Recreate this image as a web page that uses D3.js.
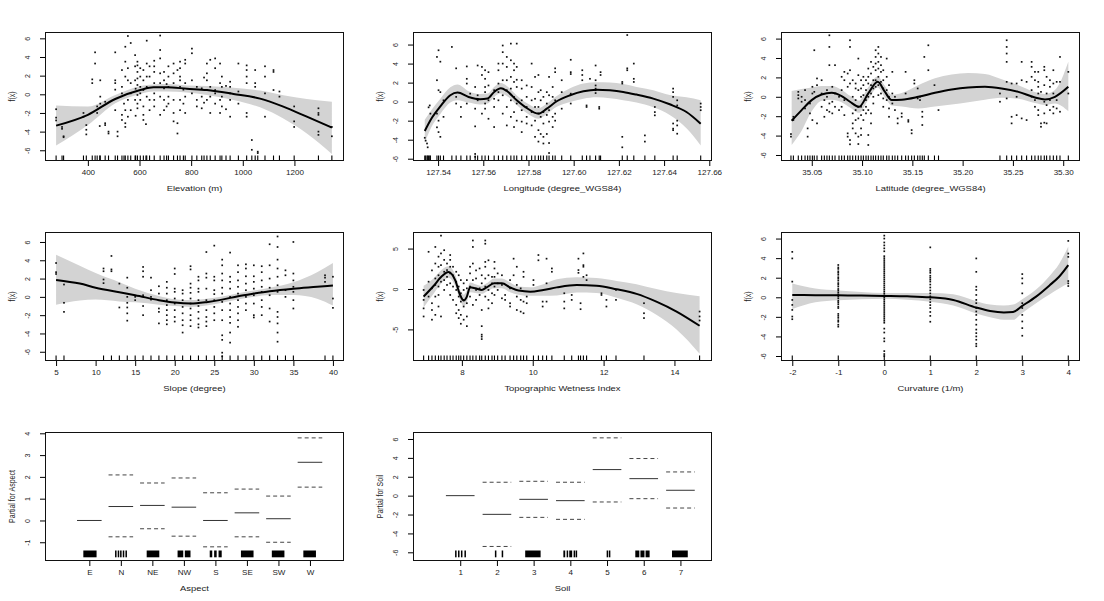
<!DOCTYPE html>
<html><head><meta charset="utf-8">
<script src="https://cdn.jsdelivr.net/npm/d3@7"></script>
<style>body{margin:0;background:#fff}svg text{font-family:"Liberation Sans",Arial,sans-serif;fill:#222}</style>
</head><body><svg id="c" width="1104" height="601"></svg>
<script>
// ---------------- DATA ----------------
// Elevation panel: partial residual columns [x, [y...]], fitted smooth and band
const elevPts = [[277,[-1.6,-2.5,-2.8]],[300,[-3.5,-3.7]],[306,[-4.5,-4.6]],[383,[-2.0,-2.4]],[394,[-3.3,-3.8,-4.3]],[417,[1.6,1.2]],[428,[4.5,3.3]],[436,[-1.3,-2.0]],[446,[-3.4]],[448,[1.5,-0.25,-1.0]],[467,[-0.8,-3.1,-3.3]],[480,[-4.0,-4.2]],[506,[4.5,1.5,1.2,0.5,-1.7]],[515,[-4.0,-4.5]],[532,[2.6,0.8,0.1,-2.2,-2.75]],[540,[-1.0]],[545,[5.1,3.5,1.9,-1.7,-3.1,-3.5]],[555,[6.25,2.8,1.5,-0.6,-2.4]],[566,[5.5,1.2,0.1,-1.7]],[583,[4.2,3.0,1.5,-0.6]],[585,[0.6,-2.3]],[592,[3.5,3.1,2.4,1.7,1.0,-0.07,-1.0,-1.5]],[603,[2.8,1.9,0.8,0.1,-0.6]],[615,[2.6,1.5,0.46,-1.3,-2.2,-2.75]],[625,[-3.2]],[628,[5.75,3.3,1.9,0.8,-0.25]],[639,[3.0,1.9,-0.6,-1.7]],[657,[3.6,3.0,2.4,1.2,0.1,-0.6,-1.3]],[680,[6.3,4.75,3.85,2.25,1.2,-0.25,-2.2]],[695,[2.4,1.5,0.64,-0.6,-1.7]],[705,[1.1,-1.3]],[712,[3.0,1.9,0.8,-0.25,-1.0]],[732,[3.3,2.25,1.2,-0.6,-2.0,-2.9]],[747,[2.6,-3.1,-4.2]],[757,[3.5,2.8,1.9,1.5,0.8,-0.6,-1.7]],[770,[0.5,-1.0]],[777,[3.7,3.3,1.2,-0.25,-2.0]],[803,[4.9,4.4,1.5,0.1]],[822,[0.8,-0.6,-1.3]],[841,[0.64,-0.25,-1.5]],[850,[1.8,-0.9]],[861,[3.3,2.25,1.5,0.46,-0.6]],[874,[3.7,0.8,-0.25,-2.0]],[893,[3.85,2.8,0.46,0.1,-1.0]],[912,[3.3,1.2,-0.6,-2.0]],[919,[1.9,0.8,-0.25,-1.3]],[935,[0.9,-1.6]],[951,[1.35,0.8,0.1,-0.6,-2.4]],[983,[3.3,0.3,-1.0]],[1015,[3.1,2.6,1.9,1.2,-2.0,-2.4]],[1035,[-4.9,-5.95]],[1048,[2.6,1.2,0.8]],[1058,[-6.15,-6.3]],[1086,[3.0,1.9,0.1,-2.4]],[1119,[2.6,2.4,0.46]],[1142,[0.3,-0.25]],[1199,[-1.3,-2.9,-3.5]],[1293,[-1.5,-2.0,-2.2,-4.0,-4.35]],[1345,[-3.5,-4.5]]];
const elevX   = [277,400,506,603,654,706,783,861,964,1067,1157,1248,1345];
const elevFit = [-3.36,-2.2,-0.5,0.46,0.75,0.75,0.6,0.46,0.04,-0.46,-1.32,-2.4,-3.57];
const elevUp  = [-1.2,-1.3,-0.07,0.9,1.05,1.1,0.95,0.9,0.7,0.4,-0.1,-0.5,-0.8];
const elevLo  = [-5.5,-3.3,-0.96,0.04,0.3,0.3,0.2,-0.07,-0.6,-1.4,-2.6,-4.2,-6.4];

const lonPts = [[127.5341,[-3.8]],[127.5345,[-4.1]],[127.5351,[-4.4]],[127.5354,[-4.8]],[127.5358,[-0.6]],[127.5363,[-0.4]],[127.5366,[-1.26]],[127.5395,[4.7,2.25,-1.26,-2.7]],[127.5402,[5.4,1.2,-2.0,-3.2]],[127.5410,[4.2,1.0,-3.7]],[127.5424,[0.14,-1.6]],[127.5461,[5.75]],[127.5480,[3.5,0.5,-0.2]],[127.5501,[-0.56,-1.6]],[127.5527,[3.7,2.4,1.9,-0.2]],[127.5542,[0.84]],[127.5564,[1.54,-0.74,-2.6,-5.5,-5.8]],[127.5575,[3.8,0.67,0.14]],[127.5594,[3.65,2.8,-1.26]],[127.5608,[3.3,2.4,1.54,1.0,-0.2,-0.74]],[127.5623,[3.1,1.7,0.14,-1.8]],[127.5648,[1.2,0.3,-0.56,-2.67]],[127.5667,[4.0,3.3,1.9,1.0,0.14]],[127.5686,[5.9,5.2,4.0,2.25,0.67,-1.26]],[127.5704,[4.7,3.65,2.25,1.2,-0.56,-2.5]],[127.5722,[6.1,4.35,2.6,1.37,0.14,-1.6]],[127.5736,[4.0,3.3,2.07,0.5,-1.1,-2.67]],[127.5748,[6.1,3.65,2.3,1.54,-0.2,-2.0]],[127.5770,[2.25,1.37,0.14,-0.9,-2.1,-3.2]],[127.5792,[1.7,0.5,-0.56,-1.6,-2.3]],[127.5814,[4.0,1.54,0.14,-1.1,-2.5]],[127.5829,[2.6,0.3,-0.56,-2.0,-3.7]],[127.5844,[2.8,1.0,-0.56,-1.26,-3.0,-4.2]],[127.5854,[1.2,0.14,-1.6,-3.4]],[127.5866,[0.5,-1.1,-2.3,-3.7,-4.4]],[127.5881,[1.0,-0.2,-1.4,-3.4]],[127.5891,[2.6,0.67,-0.9,-2.1,-4.35,-5.4]],[127.5907,[1.54,0.5,-1.6,-2.67]],[127.5918,[3.5,3.1,0.14,-1.26,-2.0]],[127.5947,[2.25,1.0,-0.74]],[127.5987,[4.4,3.1,2.9,0.84,-0.2]],[127.6038,[3.3,2.8,2.25]],[127.6057,[-0.4,-0.56]],[127.6072,[2.4]],[127.6097,[3.8,2.25,1.7,1.37,1.2,0.9]],[127.6113,[-0.56,-0.74]],[127.6119,[3.1,2.8]],[127.6215,[2.07,1.9,-3.7,-4.8]],[127.6237,[7.0,3.5,3.3]],[127.6266,[4.0,2.4,2.07]],[127.6315,[-3.55,-4.2]],[127.6359,[-0.56,-1.1,-1.44]],[127.6440,[1.37,1.0,0.5,-2.3,-2.84,-3.0]],[127.6458,[0.14,-0.4,-2.0,-2.5,-3.37]],[127.6562,[-0.2,-0.56,-0.9]]];
const lonX   = [127.5341,127.5370,127.5410,127.5454,127.5486,127.5535,127.5586,127.5619,127.5648,127.5678,127.5704,127.5748,127.5792,127.5844,127.5881,127.5925,127.5984,127.6043,127.6102,127.6160,127.6219,127.6278,127.6352,127.6425,127.6499,127.6562];
const lonFit = [-3.09,-1.8,-0.5,0.67,0.95,0.49,0.25,0.32,1.02,1.4,1.12,0.14,-0.67,-1.26,-0.74,0.04,0.67,1.09,1.26,1.19,1.02,0.74,0.32,-0.28,-1.09,-2.32];
const lonUp  = [-1.9,-0.9,0.3,1.5,1.8,1.1,0.8,0.85,1.55,1.95,1.65,0.65,-0.15,-0.7,-0.2,0.6,1.4,1.9,2.05,2.0,1.85,1.55,1.2,0.7,0.45,0.15];
const lonLo  = [-4.3,-2.7,-1.3,-0.1,0.15,-0.1,-0.3,-0.2,0.5,0.85,0.6,-0.35,-1.2,-1.8,-1.3,-0.55,-0.05,0.3,0.45,0.35,0.15,-0.1,-0.6,-1.4,-2.8,-4.6];

const latPts = [[35.0293,[-3.84,-4.11]],[35.0317,[-2.4,-2.06]],[35.0366,[0.51,0.17,-0.17]],[35.0399,[0,-0.51]],[35.0433,[0.69,-0.34,-1.2]],[35.0459,[-3.26,-4.11]],[35.0482,[-0.69,-1.71]],[35.0506,[1.03,0.34,-2.4]],[35.0525,[4.8,0.51]],[35.0552,[1.89,1.2,-2.74]],[35.0598,[1.71,0.34,-1.03]],[35.0625,[-0.34,-2.06]],[35.0651,[0.69,0,-1.37]],[35.0675,[6.34,5.14,3.26,-0.69,-1.54]],[35.0704,[1.03,-0.51,-1.71]],[35.0731,[3.26,0.34,-1.03]],[35.0771,[0,-1.37]],[35.0797,[2.06,0.69,-1.03]],[35.0824,[2.57,1.71,-0.34,-1.89]],[35.0857,[2.4,1.03,-3.77,-4.11]],[35.0880,[5.83,5.14,2.74,1.37,-4.46,-4.9]],[35.0907,[1.71,0,-1.71,-2.74,-3.26]],[35.0936,[1.37,0.86,-0.34,-1.37,-2.4,-3.77]],[35.0963,[3.94,2.23,0.69,-1.03,-2.23,-4.11,-4.87]],[35.0990,[1.71,0.86,0,-1.03,-1.89,-3.26,-3.94]],[35.1013,[2.06,1.2,0.17,-1.37,-2.4]],[35.1039,[1.71,0.69,-0.34,-1.03,-1.71]],[35.1062,[2.91,2.06,1.37,0,-1.37,-3.94,-4.97]],[35.1089,[3.6,2.4,1.2,0.34,-1.71,-2.74]],[35.1112,[3.09,1.71,0.86,0,-0.69]],[35.1135,[4.8,4.11,3.43,2.74,1.71,1.03]],[35.1162,[5.14,4.46,3.6,2.91,2.06,1.2,0.17]],[35.1188,[4.11,3.26,2.57,1.54,0.34]],[35.1211,[2.74,1.71,0.86,-0.17,-1.03]],[35.1245,[3.94,2.06,0.69,-0.34]],[35.1268,[1.2,0,-1.2,-2.06]],[35.1301,[2.57,0.34,-0.69]],[35.1327,[0,-1.37]],[35.1354,[-2.23,-2.74]],[35.1394,[-1.71,-2.06]],[35.1433,[2.57,0.34]],[35.1460,[-2.4,-2.57]],[35.1493,[-3.43,-3.77]],[35.1520,[1.71,1.37]],[35.1553,[0.86,-0.17]],[35.1576,[0,-0.34]],[35.1599,[-1.54,-2.06,-2.91]],[35.1619,[4.11]],[35.1659,[5.31,2.74]],[35.1720,[1.2]],[35.1760,[-1.37]],[35.2371,[0.34,-0.51]],[35.2438,[5.83,5.14,4.46,3.6,1.54,-0.17]],[35.2487,[1.37,-2.06,-2.74]],[35.2537,[1.37,0,-1.89]],[35.2587,[3.6,1.71,-2.23]],[35.2636,[1.54,-2.4]],[35.2686,[3.6,3.09,2.06,0.69,0]],[35.2719,[2.57,1.71,-0.34,-1.03]],[35.2752,[2.57,1.54,1.03,0.34,-1.37,-1.89]],[35.2779,[0.51,-2.74,-3.09]],[35.2812,[3.09,2.74,1.2,-0.51,-1.71,-2.67]],[35.2835,[2.06,0.34,-0.86,-2.74]],[35.2868,[1.71,1.03,-0.34,-1.37]],[35.2902,[2.74,1.37,0.34,-1.03,-1.71]],[35.2935,[1.54,-0.34,-1.2]],[35.2968,[4.11,1.54,-1.54]],[35.3051,[2.57,0.34]]];
const latX   = [35.0300,35.0399,35.0499,35.0598,35.0698,35.0797,35.0880,35.0970,35.1062,35.1155,35.1228,35.1294,35.1394,35.1559,35.1725,35.1891,35.2056,35.2222,35.2388,35.2554,35.2719,35.2819,35.2918,35.3051];
const latFit = [-2.47,-1.37,-0.34,0.24,0.41,0.07,-0.51,-1.03,0.35,1.54,0.5,-0.34,-0.3,0.0,0.41,0.75,0.96,1.03,0.86,0.51,-0.07,-0.27,0.0,1.03];
const latUp  = [0.6,0.8,0.95,1.1,1.1,0.7,0.1,-0.4,1.0,2.1,1.1,0.2,0.4,1.2,1.9,2.3,2.45,2.35,1.8,1.2,0.5,0.3,0.7,3.6];
const latLo  = [-4.97,-3.5,-1.5,-0.4,-0.3,-0.55,-1.1,-1.65,-0.3,0.95,-0.1,-0.9,-1.0,-1.2,-1.0,-0.8,-0.55,-0.3,-0.1,-0.2,-0.65,-0.85,-0.7,-1.5];

const slopePts = [[5,[3.7,2.7,2.5]],[6,[1.35,-0.65,-1.64]],[11,[3.1,2.8,1.9,1.5]],[12,[4.47,3.0,2.8]],[13,[1.45,-1.16]],[14,[2.1,1.0,0,-0.65,-1.16,-1.8,-2.6]],[15,[0,-0.36]],[16,[3.27,2.8,2.2,0.18,-1.0,-2.0]],[17,[2.1,0.73,0,-0.3]],[18,[1.16,0.36,-1.27,-1.64,-2.9]],[19,[1.64,1.0,0.36,-0.36,-0.9,-1.45,-2.0,-2.55,-3.0]],[20,[3.1,2.5,0.9,0.55,-0.18,-0.73,-1.45,-2.2,-2.7]],[21,[0.73,0.36,-0.36,-1.1,-1.8,-2.55,-3.1,-3.9]],[22,[3.35,3.0,1.45,1.0,0.44,-0.18,-0.73,-1.27,-2.0,-2.55,-3.2]],[23,[2.2,1.8,0.9,0.55,-0.36,-1.0,-1.64,-2.36,-3.0,-3.35]],[24,[4.9,2.55,2.1,0.9,-0.36,-1.45,-2.2,-2.7,-3.2]],[25,[5.6,2.2,1.8,0.73,0.3,-0.36,-1.1,-1.8,-2.55]],[26,[4.07,3.45,2.55,1.8,1.0,0.36,-0.55,-1.45,-2.55,-4.2,-4.7,-6.1,-6.5]],[27,[4.84,2.2,1.64,0.9,0,-0.73,-1.45,-2.2,-2.84,-3.9,-5.0]],[28,[3.45,2.7,1.8,1.1,0.36,-0.36,-1.1,-1.8,-2.55,-3.27]],[29,[3.56,3.1,2.25,1.45,0.73,0,-0.73,-1.45]],[30,[3.45,2.25,1.64,0.9,0.18,-0.73,-2.0,-2.25]],[31,[3.35,2.7,1.8,1.1,0.55,-0.36,-1.1,-2.0]],[32,[5.75,3.45,2.0,1.0,0.18,-1.27,-2.7]],[33,[6.6,5.45,4.07,3.1,2.2,1.27,0.55,-1.64,-2.2,-2.9,-3.9,-4.9]],[34,[2.9,2.36,0.73,0]],[35,[6.0,2.55,1.8,1.1,0.55,-0.36,-1.27]],[39,[2.36,2.1,1.64]],[40,[2.2,-0.18,-1.2]]];
const slopeX   = [5,8,10,13,15,18,20,22,24,26,28,30,32,35,38,40];
const slopeFit = [1.85,1.45,1.0,0.5,0.18,-0.36,-0.62,-0.73,-0.58,-0.3,0.07,0.36,0.62,0.9,1.1,1.24];
const slopeUp  = [4.6,3.4,2.6,1.6,0.9,0.1,-0.25,-0.35,-0.2,0.05,0.4,0.7,1.0,1.6,2.7,3.7];
const slopeLo  = [-0.85,-0.4,-0.3,-0.5,-0.6,-0.85,-1.0,-1.1,-0.95,-0.65,-0.3,0.0,0.2,0.2,-0.2,-0.95];

const twiPts = [[6.92,[-0.12,-1.35,-2.4,-3.4]],[7.06,[4.6,0.9,-0.94]],[7.155,[2.3,0.08,-1.76,-2.6,-3.8]],[7.25,[5.2,3.15,1.3,0.5,-0.94,-3.2]],[7.34,[4.0,2.75,1.7,0.3,-0.74,-2.17]],[7.41,[6.6,4.4,2.95,0.9,-3.4]],[7.50,[4.8,3.6,2.13,1.1,-0.12]],[7.58,[3.15,2.34,1.5,0.5]],[7.67,[4.2,3.6,2.75,1.93,0.7,-0.74]],[7.75,[2.75,1.7,0.3,-1.35]],[7.84,[2.13,0.9,-0.12,-1.97,-3.0]],[7.91,[1.7,0.3,-0.94,-2.6,-3.6]],[7.97,[1.1,-0.53,-1.56,-3.2,-4.3]],[8.05,[0.7,-0.12,-1.35,-2.17,-3.8]],[8.14,[1.1,0.08,-1.76,-3.4,-4.6]],[8.23,[2.75,1.93,0.3,-0.94]],[8.31,[6.0,5.2,3.15,1.1,-1.97]],[8.40,[2.3,1.3,-0.12,-1.35]],[8.50,[2.54,0.08,-0.74]],[8.56,[1.7,0.7,-2.6,-4.6,-5.65,-5.9,-6.2]],[8.66,[6.0,5.6,3.35,2.75,1.3,0.3,-0.94]],[8.75,[3.55,1.7,-0.12,-1.35,-2.4]],[8.85,[1.5,0.7,-0.53,-1.76]],[8.92,[3.35,2.54,1.5,0.3,-0.74]],[9.01,[1.93,0.7,-0.12]],[9.13,[1.7,0.5,-1.15]],[9.22,[-0.74,-1.35]],[9.36,[1.1,0.08,-1.76,-2.17]],[9.46,[3.75,1.7]],[9.55,[2.75,0.5,-0.94,-2.6]],[9.66,[0.08,-1.35,-2.8]],[9.74,[2.13,1.5,-1.56,-3.0]],[9.83,[-0.94,-1.76]],[10.02,[1.1,0.5]],[10.16,[4.2,3.55]],[10.28,[-1.56,-2.17]],[10.39,[3.75,0.7,-1.56]],[10.54,[2.54,2.13]],[10.89,[-0.53,-1.56,-2.4]],[11.10,[-0.74,-1.35]],[11.29,[3.75,2.34,2.0]],[11.35,[-1.76,-2.5]],[11.43,[4.4,2.95,2.75,1.5]],[11.52,[1.7,1.1]],[11.94,[-0.53,-0.74]],[12.08,[-1.35,-2.17]],[12.35,[-0.12,-1.35]],[13.14,[-1.76,-3.0,-3.6]],[14.71,[-2.79,-3.4,-3.9]]];
const twiX   = [6.92,7.20,7.44,7.62,7.81,7.95,8.05,8.14,8.23,8.38,8.56,8.70,8.91,9.13,9.36,9.60,9.93,10.30,10.68,11.24,11.80,12.37,12.93,13.49,14.06,14.71];
const twiFit = [-0.94,0.37,1.6,2.1,1.1,-0.74,-1.43,-0.94,0.2,0.08,-0.12,0.2,0.7,0.7,0.2,-0.2,-0.33,-0.12,0.2,0.49,0.41,-0.04,-0.6,-1.56,-2.79,-4.55];
const twiUp  = [0.4,1.3,2.4,2.8,1.8,-0.1,-0.7,-0.2,0.8,0.6,0.4,0.7,1.3,1.3,0.8,0.3,0.2,0.6,1.2,1.45,1.35,1.0,0.6,0.0,-0.5,-0.9];
const twiLo  = [-2.3,-0.6,0.8,1.4,0.4,-1.4,-2.1,-1.6,-0.4,-0.5,-0.6,-0.3,0.1,0.1,-0.4,-0.7,-0.85,-0.85,-0.8,-0.45,-0.5,-1.1,-1.9,-3.2,-5.0,-8.0];

const curvPts = [[-2,[4.64,3.97,1.6,-0.27,-0.78,-1.29,-1.97,-2.24]],[-1,[3.3,3.05,2.9,2.65,2.5,2.3,2.05,1.9,1.7,1.45,1.3,1.1,0.85,0.7,0.5,0.3,0.1,-0.1,-0.35,-0.5,-0.7,-0.95,-1.1,-1.7,-1.9,-2.1,-2.35,-2.5,-2.8,-3.0]],[0,[6.3,6.0,5.6,5.3,5.0,4.7,4.2,4.0,3.8,3.6,3.4,3.2,3.0,2.8,2.6,2.4,2.2,2.0,1.8,1.6,1.4,1.2,1.0,0.8,0.6,0.4,0.2,0,-0.2,-0.4,-0.6,-0.8,-1.0,-1.2,-1.4,-1.6,-1.8,-2.0,-2.2,-2.4,-2.6,-3.2,-3.6,-4.2,-4.5,-5.5,-5.8,-6.0]],[1,[5.1,2.9,2.7,2.5,2.2,2.0,1.8,1.6,1.3,1.0,0.7,0.4,0.1,-0.2,-0.5,-0.8,-1.1,-1.5,-1.9,-2.5]],[2,[3.97,2.6,1.08,0.75,0.24,-0.27,-0.6,-1.1,-1.45,-1.8,-2.3,-2.8,-3.3,-3.66,-4.0,-4.34,-4.75,-5.0]],[3,[2.37,1.93,1.42,0.4,-0.6,-1.1,-1.8,-2.47,-3.15,-3.93]],[4,[5.76,4.47,4.13,1.66,1.42,1.15]]];
const curvX   = [-2,-1.5,-1,-0.5,0,0.5,1,1.5,2,2.3,2.6,2.8,3,3.3,3.6,3.8,4];
const curvFit = [0.24,0.22,0.2,0.17,0.14,0.1,0,-0.27,-1.05,-1.4,-1.55,-1.5,-0.88,0.07,1.25,2.1,3.29];
const curvUp  = [1.4,0.9,0.7,0.55,0.45,0.45,0.45,0.3,-0.4,-0.75,-0.85,-0.75,-0.2,0.8,2.2,3.4,5.2];
const curvLo  = [-1.2,-0.5,-0.3,-0.2,-0.15,-0.25,-0.45,-0.85,-1.65,-2.05,-2.3,-2.3,-1.6,-0.6,0.3,0.9,1.4];

// Factor terms
const aspectCats = ["E","N","NE","NW","S","SE","SW","W"];
const aspectFit  = [0,0.64,0.69,0.61,0,0.35,0.08,2.67];
const aspectUp   = [0,2.09,1.72,1.95,1.27,1.44,1.12,3.79];
const aspectLo   = [0,-0.75,-0.38,-0.72,-1.21,-0.75,-1.0,1.53];
const aspectRug  = [[[-0.19,0.23]],[[-0.16,-0.16],[-0.075,-0.075],[0,0],[0.085,0.085],[0.17,0.17]],[[-0.18,0.22]],[[-0.2,-0.02],[0.03,0.21]],[[-0.18,-0.1],[-0.04,0.04],[0.1,0.2]],[[-0.19,0.21]],[[-0.21,0.19]],[[-0.21,0.19]]];

const soilCats = ["1","2","3","4","5","6","7"];
const soilFit  = [0,-1.98,-0.39,-0.53,2.76,1.8,0.57];
const soilUp   = [0,1.42,1.52,1.42,6.12,3.93,2.51];
const soilLo   = [0,-5.38,-2.3,-2.51,-0.67,-0.32,-1.31];
const soilRug  = [[[-0.12,-0.12],[-0.05,-0.03],[0.04,0.04],[0.12,0.15]],[[-0.05,-0.02],[0.15,0.15]],[[-0.23,0.19]],[[-0.19,-0.14],[-0.09,-0.07],[-0.03,0.05],[0.1,0.12],[0.16,0.17]],[[0.01,0.01],[0.07,0.07]],[[-0.23,-0.12],[-0.09,0.02],[0.05,0.16]],[[-0.23,0.2]]];

// ---------------- DRAWING ----------------
const svg = d3.select("#c");
const W = 299, H = 129;
const cols = [45, 413, 781], rows = [32, 232, 432];
const TICK_FS = 7, TICK_SX = 1.15, LAB_FS = 7, LAB_SX = 1.35;
const fmtInt = d => String(d);

function makePanel(c, r, xDom, yDom) {
  const x0 = cols[c], y0 = rows[r];
  return {x0, y0,
    x: d3.scaleLinear().domain(xDom).range([x0, x0 + W]),
    y: d3.scaleLinear().domain(yDom).range([y0 + H, y0])};
}

function frame(p, xTicks, xFmt, yTicks, xTitle, yTitle) {
  const gx = svg.append("g").attr("transform", `translate(0,${p.y0 + H})`)
    .call(d3.axisBottom(p.x).tickValues(xTicks).tickFormat(xFmt).tickSize(5).tickSizeOuter(0));
  gx.select(".domain").remove();
  gx.attr("font-size", TICK_FS).attr("font-family", null);
  gx.selectAll("text").attr("y", null).attr("dy", null)
    .attr("transform", `translate(0,14) scale(${TICK_SX},1)`);
  const gy = svg.append("g").attr("transform", `translate(${p.x0},0)`)
    .call(d3.axisLeft(p.y).tickValues(yTicks).tickFormat(fmtInt).tickSize(5).tickSizeOuter(0));
  gy.select(".domain").remove();
  gy.attr("font-size", TICK_FS).attr("font-family", null);
  gy.selectAll("text").attr("x", null).attr("dy", null).attr("text-anchor", "middle")
    .attr("transform", `translate(-15,0) scale(${TICK_SX},1) rotate(-90)`);
  svg.append("rect").attr("x", p.x0 + 0.5).attr("y", p.y0 + 0.5).attr("width", W - 1).attr("height", H - 1)
    .attr("fill", "none").attr("stroke", "#111").attr("stroke-width", 1);
  svg.append("text").attr("font-size", LAB_FS).attr("text-anchor", "middle")
    .attr("transform", `translate(${p.x0 + W / 2},${p.y0 + H + 30}) scale(${LAB_SX},1)`).text(xTitle);
  svg.append("text").attr("font-size", LAB_FS).attr("text-anchor", "middle")
    .attr("transform", `translate(${p.x0 - 30},${p.y0 + H / 2}) scale(${LAB_SX},1) rotate(-90)`).text(yTitle);
}

function smooth(p, pts, xs, fit, up, lo) {
  const band = xs.map((v, i) => ({x: v, u: up[i], l: lo[i], f: fit[i]}));
  const clip = "clip" + p.x0 + "_" + p.y0;
  svg.append("clipPath").attr("id", clip).append("rect").attr("x", p.x0).attr("y", p.y0).attr("width", W).attr("height", H);
  const g = svg.append("g").attr("clip-path", `url(#${clip})`);
  g.append("path").datum(band).attr("fill", "#d3d3d3")
    .attr("d", d3.area().x(d => p.x(d.x)).y0(d => p.y(d.l)).y1(d => p.y(d.u)).curve(d3.curveMonotoneX));
  const flat = pts.flatMap(([xv, ys]) => ys.map(yv => [xv, yv]));
  g.selectAll(null).data(flat).enter().append("rect")
    .attr("x", d => p.x(d[0]) - 0.85).attr("y", d => p.y(d[1]) - 0.85)
    .attr("width", 1.7).attr("height", 1.7).attr("fill", "#111");
  g.append("path").datum(band).attr("fill", "none").attr("stroke", "#000").attr("stroke-width", 2)
    .attr("stroke-linejoin", "round")
    .attr("d", d3.line().x(d => p.x(d.x)).y(d => p.y(d.f)).curve(d3.curveMonotoneX));
  // rug at observed x values
  g.selectAll(null).data(pts.map(d => d[0])).enter().append("line")
    .attr("x1", d => p.x(d)).attr("x2", d => p.x(d))
    .attr("y1", p.y0 + H - 5.5).attr("y2", p.y0 + H)
    .attr("stroke", "#000").attr("stroke-width", 1.1);
}

function factor(p, fit, up, lo, rug) {
  const g = svg.append("g");
  fit.forEach((v, i) => {
    const c = i + 1;
    g.append("line").attr("x1", p.x(c - 0.39)).attr("x2", p.x(c + 0.39)).attr("y1", p.y(v)).attr("y2", p.y(v))
      .attr("stroke", "#333").attr("stroke-width", 1);
    [up[i], lo[i]].forEach(b => {
      if (b === v) return;
      g.append("line").attr("x1", p.x(c - 0.39)).attr("x2", p.x(c + 0.39)).attr("y1", p.y(b)).attr("y2", p.y(b))
        .attr("stroke", "#444").attr("stroke-width", 1).attr("stroke-dasharray", "4,3");
    });
    rug[i].forEach(([a, b]) => {
      const xa = p.x(c + a), xb = p.x(c + b);
      const w = Math.max(1.5, xb - xa);
      g.append("rect").attr("x", (xa + xb) / 2 - w / 2).attr("y", p.y0 + H - 10.5)
        .attr("width", w).attr("height", 6.8).attr("fill", "#000");
    });
  });
}

const ev6 = [-6,-4,-2,0,2,4,6];
const f2 = d3.format(".2f");

let p;
p = makePanel(0, 0, [234, 1392], [-7.15, 6.68]);
smooth(p, elevPts, elevX, elevFit, elevUp, elevLo);
frame(p, [400,600,800,1000,1200], fmtInt, ev6, "Elevation (m)", "f(x)");

p = makePanel(1, 0, [127.5289, 127.6612], [-6.24, 7.32]);
smooth(p, lonPts, lonX, lonFit, lonUp, lonLo);
frame(p, [127.54,127.56,127.58,127.60,127.62,127.64,127.66], f2, ev6, "Longitude (degree_WGS84)", "f(x)");

p = makePanel(2, 0, [35.0194, 35.3167], [-6.62, 6.68]);
smooth(p, latPts, latX, latFit, latUp, latLo);
frame(p, [35.05,35.10,35.15,35.20,35.25,35.30], f2, ev6, "Latitude (degree_WGS84)", "f(x)");

p = makePanel(0, 1, [3.6, 41.4], [-7.01, 7.09]);
smooth(p, slopePts, slopeX, slopeFit, slopeUp, slopeLo);
frame(p, [5,10,15,20,25,30,35,40], fmtInt, ev6, "Slope (degree)", "f(x)");

p = makePanel(1, 1, [6.62, 15.06], [-8.91, 7.05]);
smooth(p, twiPts, twiX, twiFit, twiUp, twiLo);
frame(p, [8,10,12,14], fmtInt, [-5,0,5], "Topographic Wetness Index", "f(x)");

p = makePanel(2, 1, [-2.245, 4.255], [-6.51, 6.67]);
smooth(p, curvPts, curvX, curvFit, curvUp, curvLo);
frame(p, [-2,-1,0,1,2,3,4], fmtInt, ev6, "Curvature (1/m)", "f(x)");

p = makePanel(0, 2, [-0.406, 9.08], [-1.86, 4.06]);
factor(p, aspectFit, aspectUp, aspectLo, aspectRug);
frame(p, d3.range(1, aspectCats.length + 1), d => aspectCats[d - 1], [-1,0,1,2,3,4], "Aspect", "Partial for Aspect");

p = makePanel(1, 2, [-0.287, 7.86], [-6.92, 6.74]);
factor(p, soilFit, soilUp, soilLo, soilRug);
frame(p, d3.range(1, soilCats.length + 1), d => soilCats[d - 1], ev6, "Soil", "Partial for Soil");
</script></body></html>
